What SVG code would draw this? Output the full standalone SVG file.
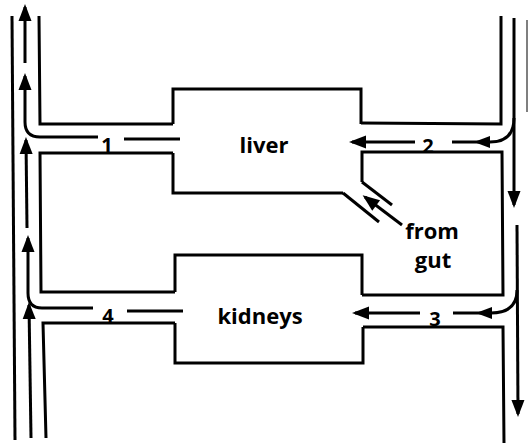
<svg xmlns="http://www.w3.org/2000/svg" width="529" height="445" viewBox="0 0 529 445">
<style>
.w{fill:none;stroke:#000;stroke-width:3;stroke-linejoin:miter;stroke-linecap:butt}
.f{fill:none;stroke:#000;stroke-width:3}
.h{fill:#000}
.t{font-family:"Open Sans","Liberation Sans",sans-serif;font-weight:bold;font-size:22px;fill:#000;text-anchor:middle}
.n{font-family:"Open Sans","Liberation Sans",sans-serif;font-weight:bold;font-size:20px;fill:#000;text-anchor:middle}
</style>
<defs>
<marker id="ah" markerUnits="userSpaceOnUse" markerWidth="20" markerHeight="16" viewBox="-15 -8 19 16" refX="0" refY="0" orient="auto">
<path d="M3,0 L-14,-6.5 L-14,6.5 Z" fill="#000"/>
</marker>
</defs>
<rect width="529" height="445" fill="#fff"/>
<g id="vessels">
<path class="w" d="M12 16 L15 440"/>
<path class="w" d="M39 16 L40 124 L173 124"/>
<path class="w" d="M361 123 L501 124 L501 16"/>
<path class="w" d="M173 153 L40 153 L41 292 L175 292"/>
<path class="w" d="M362 182 L362 152 L502 152 L503 295 L362 295"/>
<path class="w" d="M46 438 L43 323 L175 323"/>
<path class="w" d="M363 327 L503 327 L504 443"/>
<path class="w" d="M343 193 L379 222"/>
<path class="w" d="M362 182 L392 205"/>
<path d="M527 20 L527 112" stroke="#555" stroke-width="1.5" fill="none"/>
</g>
<g id="liver">
<path class="w" d="M173 124 L173 89 L361 89 L361 124"/>
<path class="w" d="M173 153 L173 193 L343 193"/>
<text class="t" x="264" y="153">liver</text>
</g>
<g id="kidneys">
<path class="w" d="M175 292 L175 255 L362 255 L362 295"/>
<path class="w" d="M175 323 L175 363 L363 363 L363 327"/>
<text class="t" x="260" y="324">kidneys</text>
</g>
<g id="gut">
<text class="t" x="432" y="239">from</text>
<text class="t" x="433" y="268">gut</text>
</g>
<g id="connectors">
<path class="f" d="M25 63 L25 7" marker-end="url(#ah)"/>
<path class="f" d="M98 137 L40 137 Q25 137 25 122 L25 76" marker-end="url(#ah)"/>
<path class="f" d="M180 139 L124 139"/>
<path class="f" d="M27 228 L26 140" marker-end="url(#ah)"/>
<path class="f" d="M93 308 L42 308 Q28 308 28 293 L28 238" marker-end="url(#ah)"/>
<path class="f" d="M183 311 L127 311"/>
<path class="f" d="M31 438 L29 305" marker-end="url(#ah)"/>
<path class="f" d="M514 18 L514 205" marker-end="url(#ah)"/>
<path class="f" d="M452 142 L490 142 Q514 142 514 118"/>
<polygon class="h" points="474,142 490,136 490,148"/>
<path class="f" d="M415 142 L352 142" marker-end="url(#ah)"/>
<path class="f" d="M517 225 L518 414" marker-end="url(#ah)"/>
<path class="f" d="M453 313 L491 313 Q517 313 517 290"/>
<polygon class="h" points="476,313 492,307 492,319"/>
<path class="f" d="M420 313 L355 313" marker-end="url(#ah)"/>
<path class="f" d="M402 225 L365 197" marker-end="url(#ah)"/>
</g>
<g id="labels">
<text class="n" x="107" y="152">1</text>
<text class="n" x="428" y="153">2</text>
<text class="n" x="435" y="326">3</text>
<text class="n" x="108" y="323">4</text>
</g>
</svg>
